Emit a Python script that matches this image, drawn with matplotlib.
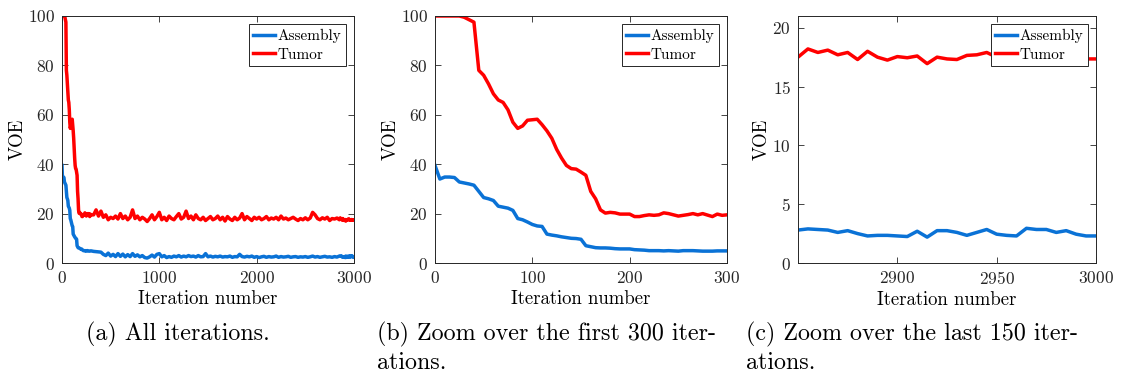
import numpy as np
import matplotlib
matplotlib.use("Agg")
import matplotlib.pyplot as plt

plt.rcParams["font.family"] = "serif"
plt.rcParams["font.serif"] = ["cmr10"]
plt.rcParams["mathtext.fontset"] = "cm"
plt.rcParams["axes.formatter.use_mathtext"] = True

BLUE = "#0a72d6"
RED = "#ff0000"

# first 300 iterations (every 5)
iter_first = np.arange(0, 301, 5)
tumor_first = [
    100, 100, 100, 100, 100, 100, 99.5, 98.5, 97.5, 78.0,
    76.0, 72.5, 68.5, 66.0, 65.0, 62.0, 57.0, 54.5, 55.5, 57.8,
    58.0, 58.2, 56.0, 53.5, 50.5, 46.0, 42.5, 39.5, 38.2, 38.0,
    36.8, 35.5, 29.0, 26.0, 21.5, 20.2, 20.5, 20.3, 19.8, 19.8,
    19.8, 18.8, 18.8, 19.2, 19.5, 19.3, 19.5, 20.3, 20.0, 19.5,
    19.0, 19.3, 19.6, 20.0, 19.5, 20.0, 19.4, 18.8, 19.8, 19.3,
    19.5,
]
assembly_first = [
    39.5, 34.0, 34.8, 34.8, 34.6, 32.8, 32.4, 32.0, 31.5, 29.0,
    26.5, 26.0, 25.3, 23.0, 22.6, 22.2, 21.3, 18.0, 17.5, 16.6,
    15.6, 15.0, 14.8, 11.7, 11.3, 11.0, 10.6, 10.3, 10.0, 9.9,
    9.6, 7.0, 6.6, 6.2, 6.1, 6.1, 6.0, 5.8, 5.7, 5.7,
    5.7, 5.4, 5.3, 5.2, 5.0, 5.0, 5.0, 4.9, 5.0, 4.9,
    4.8, 5.0, 5.0, 5.0, 4.9, 4.8, 4.8, 4.8, 4.9, 4.9,
    4.9,
]

# middle iterations (every 25)
iter_mid = np.arange(325, 2826, 25)
tumor_mid = [
    19.5, 21.5, 19.0, 21.0, 18.5, 19.5, 17.5, 18.5, 18.0, 19.0,
    17.8, 20.0, 18.0, 19.0, 17.5, 18.5, 21.5, 18.0, 19.0, 17.5,
    18.5, 17.8, 16.8, 18.0, 19.5, 17.5, 18.8, 20.5, 17.5, 18.5,
    17.2, 19.0, 18.0, 17.5, 18.8, 20.0, 17.8, 18.5, 21.0, 18.0,
    19.0, 17.5, 19.5, 18.0, 17.5, 18.5, 17.2, 18.0, 18.8, 17.5,
    18.0, 19.0, 17.5, 18.5, 17.0, 18.8, 17.8, 17.2, 18.5, 17.5,
    18.2, 20.0, 17.5, 18.8, 18.0, 17.2, 18.5, 17.8, 18.5, 17.5,
    18.0, 18.8, 17.5, 18.2, 17.8, 18.5, 17.5, 19.0, 17.8, 18.2,
    17.5, 18.0, 18.5, 17.8, 17.2, 18.0, 17.5, 18.3, 17.5, 18.2,
    20.5, 19.5, 18.0, 17.5, 18.3, 17.8, 18.5, 17.2, 18.0, 17.8,
    18.2,
]
assembly_mid = [
    4.7, 4.6, 4.5, 4.4, 3.5, 3.0, 4.0, 2.8, 3.5, 2.6,
    3.8, 2.7, 3.6, 2.5, 3.4, 2.6, 3.8, 2.7, 3.3, 2.5,
    3.0, 2.2, 2.0, 2.5, 3.2, 2.4, 3.5, 3.8, 2.5, 3.0,
    2.2, 2.6, 2.3, 2.8, 2.5, 3.0, 2.4, 2.8, 2.5, 3.0,
    2.6, 2.8, 2.4, 3.0, 2.5, 2.6, 3.8, 2.5, 2.8, 2.4,
    2.7, 2.5, 2.8, 2.4, 2.6, 2.5, 2.8, 2.3, 2.6, 2.5,
    3.5, 2.6, 2.4, 2.7, 2.5, 2.8, 2.3, 2.6, 2.2, 2.5,
    2.7, 2.3, 2.6, 2.4, 2.5, 2.8, 2.3, 2.6, 2.4, 2.5,
    2.7, 2.3, 2.5, 2.6, 2.3, 2.5, 2.4, 2.6, 2.3, 2.5,
    2.8, 2.4, 2.6, 2.3, 2.5, 2.7, 2.4, 2.5, 2.3, 2.6,
    2.4,
]

# last 150 iterations (every 5)
iter_last = np.arange(2850, 3001, 5)
tumor_last = [
    17.5, 18.2, 17.9, 18.1, 17.7, 17.9, 17.3, 18.0, 17.5, 17.25,
    17.55, 17.45, 17.6, 16.95, 17.5, 17.35, 17.3, 17.65, 17.7, 17.9,
    17.5, 17.6, 17.4, 17.5, 17.3, 17.6, 17.4, 17.5, 17.3, 17.35,
    17.35,
]
assembly_last = [
    2.8, 2.9, 2.85, 2.8, 2.6, 2.75, 2.5, 2.3, 2.35, 2.35,
    2.3, 2.25, 2.7, 2.2, 2.75, 2.75, 2.6, 2.35, 2.6, 2.85,
    2.45, 2.35, 2.3, 2.95, 2.85, 2.85, 2.6, 2.75, 2.45, 2.3,
    2.3,
]

iter_all = np.concatenate([iter_first, iter_mid, iter_last])
tumor_all = np.concatenate([tumor_first, tumor_mid, tumor_last])
assembly_all = np.concatenate([assembly_first, assembly_mid, assembly_last])

captions = [
    "(a) All iterations.",
    "(b) Zoom over the first 300 iter-\nations.",
    "(c) Zoom over the last 150 iter-\nations.",
]

fig = plt.figure(figsize=(11.21, 3.76), dpi=100)
W, H = 1121, 376
boxes = [(62, 354), (435, 727), (798, 1096)]
top, bottom = 16, 263

panels = [
    (iter_all, assembly_all, tumor_all, (0, 3000), (0, 100), [0, 1000, 2000, 3000], [0, 20, 40, 60, 80, 100]),
    (iter_first, assembly_first, tumor_first, (0, 300), (0, 100), [0, 100, 200, 300], [0, 20, 40, 60, 80, 100]),
    (iter_last, assembly_last, tumor_last, (2850, 3000), (0, 21), [2900, 2950, 3000], [0, 5, 10, 15, 20]),
]

for (l, r), (x, asm, tum, xl, yl, xt, yt), cap, cx in zip(boxes, panels, captions, [86, 377, 746]):
    ax = fig.add_axes([l / W, 1 - bottom / H, (r - l) / W, (bottom - top) / H])
    ax.plot(x, asm, color=BLUE, lw=2.5, label="Assembly")
    ax.plot(x, tum, color=RED, lw=2.5, label="Tumor")
    ax.set_xlim(*xl)
    ax.set_ylim(*yl)
    ax.set_xticks(xt)
    ax.set_yticks(yt)
    ax.tick_params(direction="in", top=True, right=True, labelsize=12.5,
                   length=4, width=0.6, colors="#262626", pad=5)
    for s in ax.spines.values():
        s.set_linewidth(0.7)
        s.set_color("#262626")
    ax.set_xlabel("Iteration number", fontsize=13.5, labelpad=3)
    ax.set_ylabel("VOE", fontsize=13.5, labelpad=1)
    leg = ax.legend(loc="upper right", fontsize=11, handlelength=1.45,
                    handletextpad=0.12, borderpad=0.3, labelspacing=0.3,
                    fancybox=False, framealpha=1, borderaxespad=0.55)
    leg.get_frame().set_edgecolor("#262626")
    leg.get_frame().set_linewidth(0.7)
    fig.text(cx / W, 1 - 322 / H, cap, fontsize=17.3, va="top", ha="left",
             linespacing=1.27)

fig.savefig("out.png", dpi=100)
